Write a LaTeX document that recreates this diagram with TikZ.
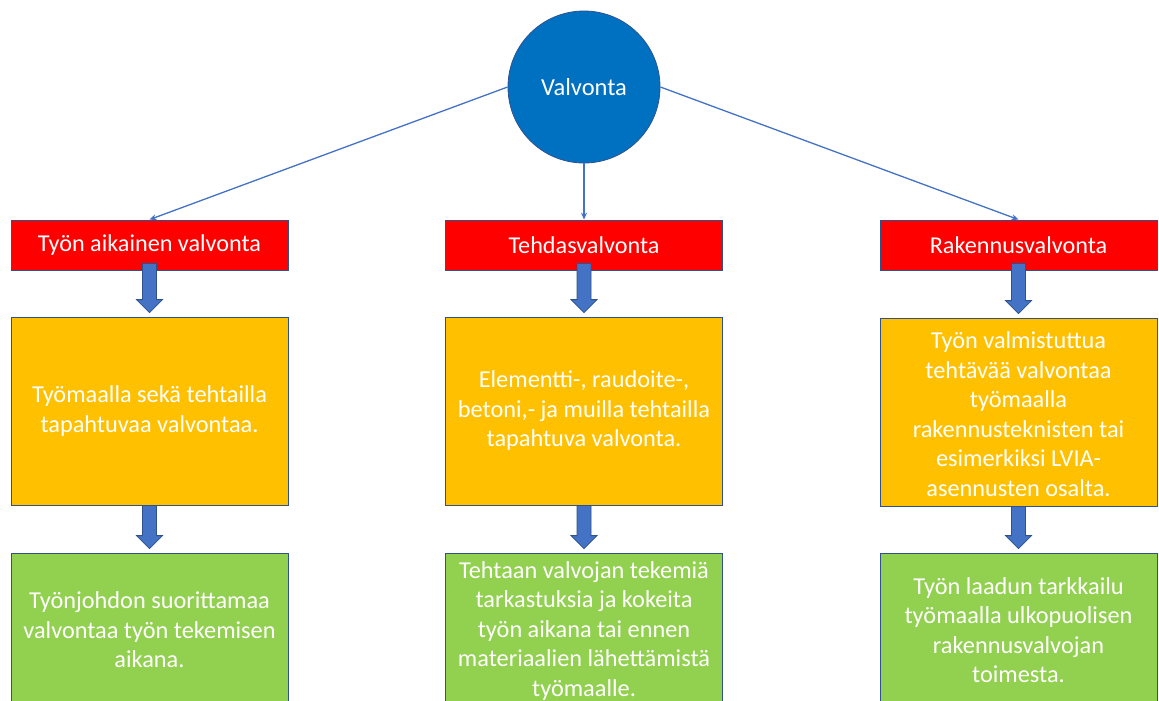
\documentclass[tikz,border=0pt]{standalone}
\usepackage{fontspec}
\setmainfont{Carlito}
\usetikzlibrary{calc,arrows.meta}
\definecolor{circblue}{HTML}{0070C0}
\definecolor{edgeblue}{HTML}{2F528F}
\definecolor{lineblue}{HTML}{4472C4}
\definecolor{boxred}{HTML}{FF0000}
\definecolor{boxorange}{HTML}{FFC000}
\definecolor{boxgreen}{HTML}{92D050}
\tikzset{
  x=1pt,y=-1pt,
  basebox/.style={draw=edgeblue,line width=0.8pt,text=white,align=center,
    minimum width=277pt,inner sep=0pt,font=\fontsize{24.2}{29.5}\selectfont},
  headbox/.style={basebox,fill=boxred,minimum height=50pt},
  midbox/.style={basebox,fill=boxorange,minimum height=188pt},
  lowbox/.style={basebox,fill=boxgreen,minimum height=150pt},
  bodytext/.style={text=white,align=center,font=\fontsize{24.3}{29.5}\selectfont},
  conn/.style={draw=lineblue,line width=1.3pt,-{Stealth[length=7pt,width=6pt]}},
  barrowstyle/.style={fill=lineblue,draw=edgeblue,line width=0.8pt},
}
\newcommand\blockarrow[2]{%
  \path[barrowstyle] let \p1=(#1), \p2=(#2) in
    (\x1-7pt,\y1) -- (\x1+7pt,\y1) -- (\x1+7pt,\y2+13pt) -- (\x1+13pt,\y2+13pt)
    -- (\x1,\y2) -- (\x1-13pt,\y2+13pt) -- (\x1-7pt,\y2+13pt) -- cycle;}
\begin{document}
\begin{tikzpicture}
\clip (0,0) rectangle (1159,701);
\fill[white] (0,0) rectangle (1159,701);

\node[circle,fill=circblue,draw=edgeblue,line width=0.8pt,minimum size=152pt,inner sep=0pt,
  text=white,font=\fontsize{24.5}{28}\selectfont] (c) at (584,87) {Valvonta};

\node[headbox] (r1) at (149.5,245) {Työn aikainen valvonta};
\node[headbox] (r2) at (584,245) {Tehdasvalvonta};
\node[headbox] (r3) at (1018.5,245) {Rakennusvalvonta};

\node[midbox] (o1) at (149.5,411) {};
\node[bodytext] (o1t) at (o1.center) {Työmaalla sekä tehtailla\\tapahtuvaa valvontaa.};
\node[midbox] (o2) at (584,411) {};
\node[bodytext] (o2t) at (o2.center) {Elementti-, raudoite-,\\betoni,- ja muilla tehtailla\\tapahtuva valvonta.};
\node[midbox] (o3) at (1018.5,412) {};
\node[bodytext] (o3t) at (1018.5,414) {Työn valmistuttua\\tehtävää valvontaa\\työmaalla\\rakennusteknisten tai\\esimerkiksi LVIA-\\asennusten osalta.};

\node[lowbox] (g1) at (149.5,628) {};
\node[bodytext] (g1t) at (149.5,630) {Työnjohdon suorittamaa\\valvontaa työn tekemisen\\aikana.};
\node[lowbox] (g2) at (584,628) {};
\node[bodytext] (g2t) at (584,631) {Tehtaan valvojan tekemiä\\tarkastuksia ja kokeita\\työn aikana tai ennen\\materiaalien lähettämistä\\työmaalle.};
\node[lowbox] (g3) at (1018.5,628) {};
\node[bodytext] (g3t) at (1018.5,630) {Työn laadun tarkkailu\\työmaalla ulkopuolisen\\rakennusvalvojan\\toimesta.};

\draw[conn] (c.west) -- (r1.north);
\draw[conn] (c.south) -- (r2.north);
\draw[conn] (c.east) -- (r3.north);

\blockarrow{$(r1.south)+(0,-7)$}{$(o1.north)+(0,-4)$}
\blockarrow{$(r2.south)+(0,-7)$}{$(o2.north)+(0,-4)$}
\blockarrow{$(r3.south)+(0,-7)$}{$(o3.north)+(0,-4)$}
\blockarrow{$(o1.south)+(0,0)$}{$(g1.north)+(0,-4)$}
\blockarrow{$(o2.south)+(0,0)$}{$(g2.north)+(0,-4)$}
\blockarrow{$(o3.south)+(0,0)$}{$(g3.north)+(0,-4)$}
\end{tikzpicture}
\end{document}
